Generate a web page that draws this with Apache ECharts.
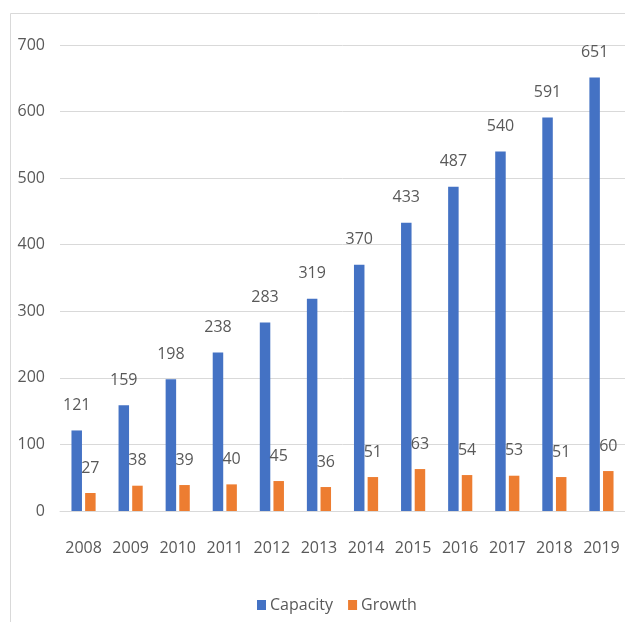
<!DOCTYPE html>
<html>
<head>
<meta charset="utf-8">
<script src="https://cdn.jsdelivr.net/npm/echarts@6/dist/echarts.min.js"></script>
<style>
  html, body { margin: 0; padding: 0; background: #ffffff; }
  #chart { width: 625px; height: 622px; }
</style>
</head>
<body>
<div id="chart"></div>
<script>
// Yearly figures
const years = ['2008', '2009', '2010', '2011', '2012', '2013', '2014', '2015', '2016', '2017', '2018', '2019'];
const capacity = [121, 159, 198, 238, 283, 319, 370, 433, 487, 540, 591, 651];
const growth = [27, 38, 39, 40, 45, 36, 51, 63, 54, 53, 51, 60];
const yTicks = { min: 0, max: 700, interval: 100 };

const FONT = '"Open Sans", "Liberation Sans", sans-serif';
const TEXT = '#595959';
const GRID_LINE = '#d9d9d9';

const chart = echarts.init(document.getElementById('chart'), null, { renderer: 'canvas' });

const labelStyle = {
  show: true,
  position: 'top',
  distance: 17,
  color: TEXT,
  fontFamily: FONT,
  fontSize: 16
};

chart.setOption({
  animation: false,
  backgroundColor: '#ffffff',
  graphic: [{
    type: 'rect',
    shape: { x: 10.5, y: 13.5, width: 700, height: 700 },
    style: { fill: 'none', stroke: GRID_LINE, lineWidth: 1 },
    silent: true
  }],
  grid: { left: 60, right: 0, top: 45, bottom: 111, containLabel: false },
  legend: {
    bottom: 4,
    left: 252,
    itemWidth: 9,
    itemHeight: 10,
    itemGap: 15,
    icon: 'rect',
    textStyle: { color: TEXT, fontFamily: FONT, fontSize: 16, padding: [0, 0, 0, -1] },
    data: ['Capacity', 'Growth']
  },
  xAxis: {
    type: 'category',
    data: years,
    axisLine: { show: true, lineStyle: { color: GRID_LINE, width: 1 } },
    axisTick: { show: false },
    axisLabel: { interval: 0, color: TEXT, fontFamily: FONT, fontSize: 16, margin: 29 }
  },
  yAxis: {
    type: 'value',
    min: yTicks.min,
    max: yTicks.max,
    interval: yTicks.interval,
    axisLine: { show: false },
    axisTick: { show: false },
    splitLine: { lineStyle: { color: GRID_LINE, width: 1 } },
    axisLabel: { color: TEXT, fontFamily: FONT, fontSize: 16, margin: 15 }
  },
  series: [
    {
      name: 'Capacity',
      type: 'bar',
      data: capacity,
      barWidth: 10.5,
      barGap: '30%',
      itemStyle: { color: '#4472C4' },
      label: labelStyle
    },
    {
      name: 'Growth',
      type: 'bar',
      data: growth,
      barWidth: 10.5,
      barGap: '30%',
      itemStyle: { color: '#ED7D31' },
      label: labelStyle
    }
  ]
});
</script>
</body>
</html>
